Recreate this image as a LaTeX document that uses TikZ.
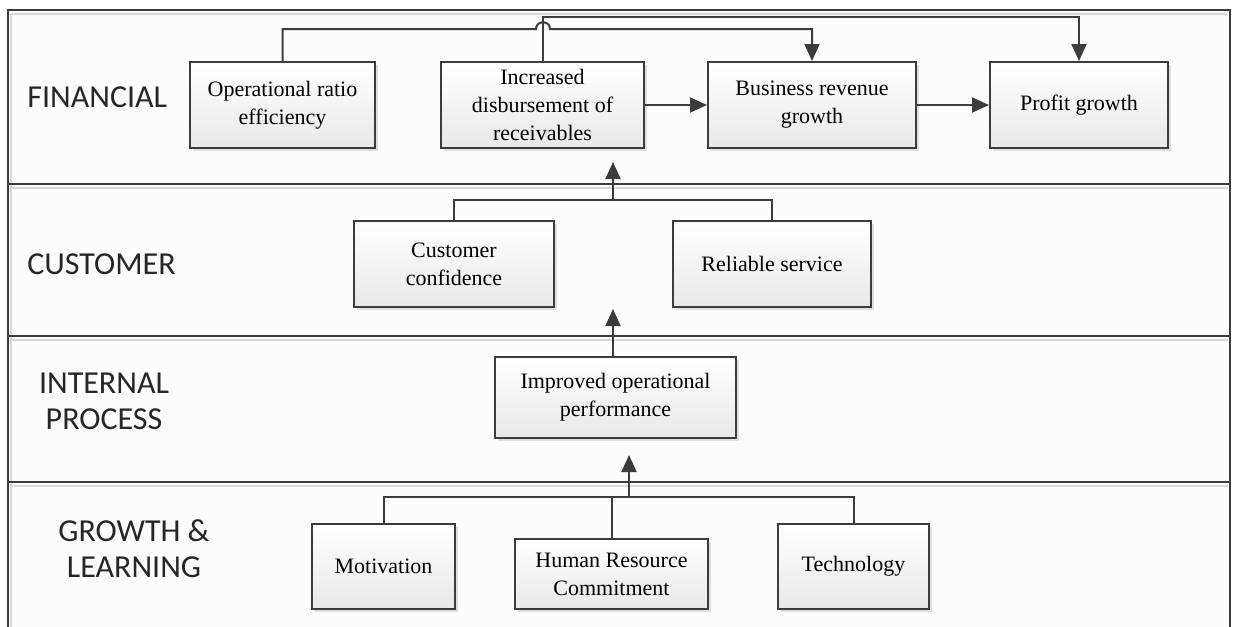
\documentclass[tikz,border=0pt]{standalone}
\usepackage{fontspec}
\setmainfont{Liberation Serif}
\newfontfamily\labfont{Carlito}
\usetikzlibrary{arrows.meta,shadows}
\definecolor{ln}{HTML}{3C3C3C}
\definecolor{shade}{HTML}{D8D8D8}
\tikzset{
  box/.style={draw=ln, line width=1pt, top color=white, bottom color=black!9,
    general shadow={fill=black!13, shadow xshift=1.5pt, shadow yshift=-1.5pt},
    align=center, inner sep=2pt, font=\fontsize{11}{14}\selectfont},
  lane/.style={font=\labfont\fontsize{16}{18}\selectfont, text=black!85, align=center, inner sep=0pt},
  conn/.style={draw=ln, line width=1pt},
  arr/.style={conn, -{Triangle[length=8.5pt,width=7.5pt]}},
  divline/.style={draw=ln, line width=1pt},
  divshade/.style={draw=shade, line width=1pt}
}
\begin{document}
\begin{tikzpicture}[x=0.5pt,y=-0.5pt]
\useasboundingbox (0,0) rectangle (1233,627);
% background bands
\fill[black!1] (8,10) rectangle (1230,627);
% frame and band dividers (with light shadow lines)
\draw[divshade] (11,14) -- (1227,14);
\draw[divshade] (11,14) -- (11,627);
\foreach \yy in {184,336,482}{
  \draw[divshade] (10,\yy+4) -- (1228,\yy+4);
  \draw[divline] (8,\yy) -- (1230,\yy);
}
\draw[divline] (8,627) -- (8,10) -- (1230,10) -- (1230,627);

% lane labels
\node[lane, anchor=west] (lfin) at (27,97) {FINANCIAL};
\node[lane, anchor=west] (lcus) at (27,264) {CUSTOMER};
\node[lane] (lint) at (104,401) {INTERNAL\\PROCESS};
\node[lane] (lgro) at (134,549) {GROWTH \&\\LEARNING};

% boxes
\node[box, minimum width=92.5pt, minimum height=43pt] (ore) at (282.5,105) {Operational ratio\\efficiency};
\node[box, minimum width=101.5pt, minimum height=43pt] (inc) at (542.5,105) {Increased\\disbursement of\\receivables};
\node[box, minimum width=104pt, minimum height=43pt] (bus) at (812,105) {Business revenue\\growth};
\node[box, minimum width=89pt, minimum height=43pt] (pro) at (1079,105) {Profit growth};
\node[box, minimum width=100pt, minimum height=43pt] (cc) at (454,264) {Customer\\confidence};
\node[box, minimum width=99pt, minimum height=43pt] (rs) at (772,264) {Reliable service};
\node[box, minimum width=120.5pt, minimum height=40.5pt] (iop) at (615.5,397.5) {Improved operational\\performance};
\node[box, minimum width=71.5pt, minimum height=42.5pt] (mot) at (383.5,566.5) {Motivation};
\node[box, minimum width=96.5pt, minimum height=35pt] (hr) at (611.5,574) {Human Resource\\Commitment};
\node[box, minimum width=75.5pt, minimum height=42.5pt] (tec) at (853.5,566.5) {Technology};

% junction coordinates
\coordinate (tA) at (0,29);
\coordinate (tB) at (0,17);
\coordinate (jmp) at (543,29);
\coordinate (cj) at (613,200);
\coordinate (ct) at (613,309);
\coordinate (gj) at (629,497);
\coordinate (gt) at (629,455);

% financial connectors
\draw[arr] (ore.north) -- (ore.north |- tA) -- (536,29)
  .. controls (536,20) and (550,20) .. (550,29) -- (bus.north |- tA) -- (bus.north);
\draw[arr] (inc.north) -- (inc.north |- tB) -- (pro.north |- tB) -- (pro.north);
\draw[arr] (inc.east) -- (bus.west);
\draw[arr] (bus.east) -- (pro.west);

% customer connectors
\draw[conn] (cc.north) -- (cc.north |- cj) -- (rs.north |- cj) -- (rs.north);
\draw[arr, shorten >=6.5pt] (cj) -- (cj |- inc.south);

% internal process
\draw[arr] (iop.north -| ct) -- (ct);

% growth & learning
\draw[conn] (mot.north) -- (mot.north |- gj) -- (tec.north |- gj) -- (tec.north);
\draw[conn] (hr.north) -- (hr.north |- gj);
\draw[arr] (gj) -- (gt);
\end{tikzpicture}
\end{document}
